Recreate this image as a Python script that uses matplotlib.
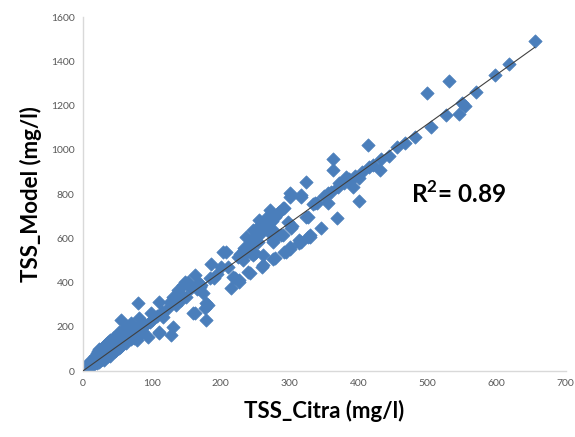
import numpy as np
import matplotlib.pyplot as plt

# ---------------- data ----------------

# dense cluster near the origin
citra_low = [1, 2, 2, 4, 4, 6, 6, 8, 8, 10,
             10, 10, 12, 12, 14, 14, 16, 16, 16, 18,
             18, 18, 20, 20, 20, 20, 22, 22, 22, 24,
             24, 24, 24, 26, 26, 26, 28, 28, 28, 30,
             30, 30, 30, 32, 32, 32, 34, 34, 34, 36,
             36, 36, 36, 38, 38, 38, 40, 40, 40, 40,
             42, 42, 42, 44, 44, 44, 46, 46, 46, 48,
             48, 48, 50, 50, 50, 52, 52, 52, 54, 54,
             54, 56, 56, 56, 58, 58, 58, 60, 60, 60,
             63, 63, 63, 66, 66, 66, 70, 70, 70, 74,
             74, 78, 78, 78, 82, 82, 82, 86, 86]
model_low = [5, 3, 12, 8, 20, 10, 25, 15, 30, 18,
             35, 45, 22, 40, 28, 50, 30, 45, 60, 35,
             55, 70, 38, 50, 65, 80, 45, 60, 90, 40,
             55, 75, 100, 50, 70, 90, 55, 75, 105, 50,
             65, 85, 115, 60, 80, 100, 65, 90, 120, 70,
             85, 105, 130, 75, 95, 115, 70, 90, 110, 140,
             80, 100, 125, 85, 105, 150, 90, 115, 135, 95,
             120, 160, 100, 125, 145, 105, 130, 175, 110, 140,
             160, 115, 150, 230, 120, 160, 185, 130, 145, 175,
             125, 155, 190, 140, 165, 200, 145, 170, 215, 150,
             185, 160, 195, 140, 165, 200, 240, 180, 205]

# middle part of the cloud (80 < x < 200)
citra_mid1 = [80, 87, 90, 94, 97, 99, 100, 108, 111, 111,
              111, 115, 116, 122, 126, 128, 130, 131, 135, 138,
              140, 142, 145, 148, 150, 152, 155, 157, 160, 162,
              162, 165, 169, 170, 172, 174, 177, 179, 179, 181,
              184, 186, 190, 195]
model_mid1 = [306, 200, 210, 155, 223, 261, 230, 250, 313, 178,
              170, 265, 245, 280, 313, 163, 336, 200, 300, 366,
              352, 320, 389, 404, 335, 404, 381, 374, 261, 434,
              263, 370, 396, 380, 389, 352, 283, 306, 230, 298,
              419, 483, 420, 440]

# 200 < x < 345
citra_mid2 = [201, 203, 208, 210, 215, 218, 220, 225, 227, 227,
              228, 231, 232, 233, 234, 237, 238, 239, 242, 242,
              244, 244, 246, 246, 246, 249, 250, 251, 252, 254,
              255, 256, 258, 259, 261, 261, 261, 262, 265, 266,
              270, 271, 271, 273, 274, 275, 275, 275, 275, 275,
              278, 278, 282, 285, 287, 290, 290, 292, 292, 295,
              297, 300, 300, 300, 300, 302, 303, 314, 314, 316,
              316, 326, 326, 329, 336, 345]
model_mid2 = [469, 539, 539, 471, 374, 426, 419, 517, 411, 404,
              530, 517, 502, 548, 554, 607, 560, 449, 444, 575,
              532, 592, 524, 590, 637, 532, 600, 629, 645, 584,
              615, 682, 628, 471, 479, 524, 667, 640, 690, 655,
              668, 622, 728, 630, 680, 505, 584, 592, 637, 705,
              509, 695, 708, 720, 615, 615, 735, 539, 735, 539,
              675, 550, 562, 788, 803, 645, 657, 580, 592, 788,
              795, 607, 697, 615, 758, 645]

# upper part (x > 300)
citra_high = [655, 617, 598, 531, 499, 570, 550, 554, 545, 526,
              505, 482, 467, 456, 444, 432, 413, 362, 362, 382,
              372, 401, 415, 430, 391, 401, 355, 324, 334, 355,
              324, 369, 329, 316, 340, 350, 360, 370, 378, 386,
              395, 405, 420]
model_high = [1493, 1390, 1338, 1312, 1258, 1262, 1210, 1197, 1161, 1157,
              1104, 1059, 1032, 1014, 972, 957, 1021, 957, 908, 878,
              848, 871, 923, 908, 833, 770, 803, 855, 755, 758,
              697, 690, 607, 584, 760, 790, 810, 830, 850, 870,
              880, 900, 930]

tss_citra = np.array(citra_low + citra_mid1 + citra_mid2 + citra_high, dtype=float)
tss_model = np.array(model_low + model_mid1 + model_mid2 + model_high, dtype=float)

r2_text = "R$^\\mathbf{2}$= 0.89"

# ---------------- plot ----------------

plt.rcParams['font.family'] = ['Lato', 'DejaVu Sans']
plt.rcParams['mathtext.fontset'] = 'custom'
plt.rcParams['mathtext.bf'] = 'Lato:bold'

fig = plt.figure(figsize=(5.75, 4.37), dpi=100)
ax = fig.add_axes([0.144, 0.151, 0.840, 0.810])

ax.scatter(tss_citra, tss_model, marker='D', s=46, color='#4a7ebb',
           edgecolors='#4a7ebb', linewidths=0.5, zorder=2)

# linear trend line through the origin
slope = np.sum(tss_citra * tss_model) / np.sum(tss_citra ** 2)
xfit = np.array([0, tss_citra.max()])
ax.plot(xfit, slope * xfit, color='#404040', lw=0.8, zorder=3)

ax.set_xlim(0, 700)
ax.set_ylim(0, 1600)
ax.set_xticks(np.arange(0, 701, 100))
ax.set_yticks(np.arange(0, 1601, 200))
ax.tick_params(length=0, labelsize=7.5, colors='#595959', pad=6)

for side in ['top', 'right']:
    ax.spines[side].set_visible(False)
for side in ['left', 'bottom']:
    ax.spines[side].set_color('#d9d9d9')
    ax.spines[side].set_linewidth(1)

ax.set_xlabel("TSS_Citra (mg/l)", fontsize=16, fontweight='bold', labelpad=8)
ax.set_ylabel("TSS_Model (mg/l)", fontsize=16, fontweight='bold', labelpad=6)

ax.text(475, 800, r2_text, fontsize=17.5, fontweight='bold', va='center', ha='left')

fig.savefig("out.png", dpi=100)
